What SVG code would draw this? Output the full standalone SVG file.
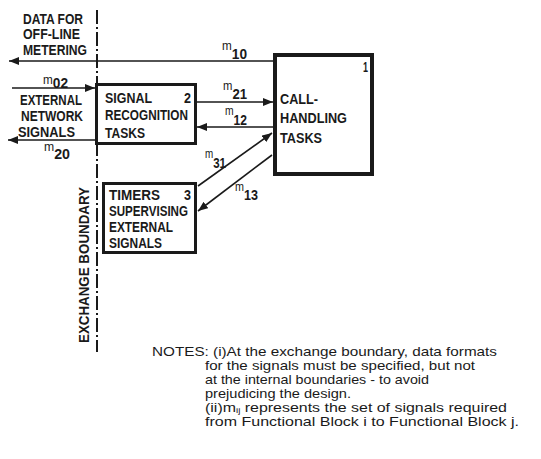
<svg xmlns="http://www.w3.org/2000/svg" width="541" height="459" viewBox="0 0 541 459">
<style>
text{font-family:"Liberation Sans","DejaVu Sans",sans-serif;fill:#1a1a1a}
.t{font-size:14px;font-weight:bold}
.m{font-size:12px}
.d{font-size:14px;font-weight:bold}
.n{font-size:13px}
.box{fill:none;stroke:#1a1a1a}
.c{stroke:#1a1a1a;stroke-width:1.6;fill:none;marker-end:url(#ah)}
</style>
<defs>
<marker id="ah" viewBox="0 0 10 8" refX="10" refY="4" markerWidth="10" markerHeight="8" markerUnits="userSpaceOnUse" orient="auto">
<path d="M0,0 L10,4 L0,8 z" fill="#1a1a1a"/>
</marker>
</defs>
<rect width="541" height="459" fill="#ffffff"/>

<g id="boundary">
<line x1="97" y1="10" x2="97" y2="352" stroke="#1a1a1a" stroke-width="2" stroke-dasharray="14 3 2 3"/>
<text class="t" transform="translate(89,343) rotate(-90)" textLength="156" lengthAdjust="spacingAndGlyphs">EXCHANGE BOUNDARY</text>
</g>

<g id="external-labels">
<text class="t" x="23" y="24" textLength="60" lengthAdjust="spacingAndGlyphs">DATA FOR</text>
<text class="t" x="23" y="39" textLength="57" lengthAdjust="spacingAndGlyphs">OFF-LINE</text>
<text class="t" x="23" y="55" textLength="64" lengthAdjust="spacingAndGlyphs">METERING</text>
<text class="t" x="20" y="105" textLength="62" lengthAdjust="spacingAndGlyphs">EXTERNAL</text>
<text class="t" x="21" y="121" textLength="62" lengthAdjust="spacingAndGlyphs">NETWORK</text>
<text class="t" x="18" y="137" textLength="57" lengthAdjust="spacingAndGlyphs">SIGNALS</text>
</g>

<g id="node1">
<rect class="box" x="275" y="55" width="97" height="119" stroke-width="4"/>
<text class="t" x="363" y="72" textLength="5" lengthAdjust="spacingAndGlyphs">1</text>
<text class="t" x="280" y="104" textLength="38" lengthAdjust="spacingAndGlyphs">CALL-</text>
<text class="t" x="280" y="123" textLength="67" lengthAdjust="spacingAndGlyphs">HANDLING</text>
<text class="t" x="280" y="143" textLength="42" lengthAdjust="spacingAndGlyphs">TASKS</text>
</g>

<g id="node2">
<rect class="box" x="96.5" y="84.5" width="99" height="59" stroke-width="3"/>
<text class="t" x="184" y="103" textLength="7" lengthAdjust="spacingAndGlyphs">2</text>
<text class="t" x="105" y="103" textLength="47" lengthAdjust="spacingAndGlyphs">SIGNAL</text>
<text class="t" x="105" y="120" textLength="83" lengthAdjust="spacingAndGlyphs">RECOGNITION</text>
<text class="t" x="105" y="138" textLength="40" lengthAdjust="spacingAndGlyphs">TASKS</text>
</g>

<g id="node3">
<rect class="box" x="103.5" y="183.5" width="92" height="69" stroke-width="3"/>
<text class="t" x="184" y="200" textLength="7" lengthAdjust="spacingAndGlyphs">3</text>
<text class="t" x="109" y="200" textLength="51" lengthAdjust="spacingAndGlyphs">TIMERS</text>
<text class="t" x="109" y="216" textLength="79" lengthAdjust="spacingAndGlyphs">SUPERVISING</text>
<text class="t" x="109" y="232" textLength="64" lengthAdjust="spacingAndGlyphs">EXTERNAL</text>
<text class="t" x="109" y="248" textLength="53" lengthAdjust="spacingAndGlyphs">SIGNALS</text>
</g>

<g id="connectors">
<line class="c" x1="273" y1="61" x2="9" y2="61"/>
<line class="c" x1="12" y1="88" x2="95" y2="88"/>
<line class="c" x1="95" y1="140" x2="8" y2="140"/>
<line class="c" x1="197" y1="102" x2="273" y2="102"/>
<line class="c" x1="273" y1="127" x2="197" y2="127"/>
<line class="c" x1="198" y1="186" x2="272" y2="133"/>
<line class="c" x1="272" y1="155" x2="198" y2="211"/>
</g>

<g id="connector-labels">
<text x="222" y="50" textLength="25" lengthAdjust="spacingAndGlyphs"><tspan class="m">m</tspan><tspan class="d" dy="9">10</tspan></text>
<text x="43" y="84" textLength="25" lengthAdjust="spacingAndGlyphs"><tspan class="m">m</tspan><tspan class="d" dy="4">02</tspan></text>
<text x="44" y="151" textLength="26" lengthAdjust="spacingAndGlyphs"><tspan class="m">m</tspan><tspan class="d" dy="8">20</tspan></text>
<text x="223" y="90" textLength="24" lengthAdjust="spacingAndGlyphs"><tspan class="m">m</tspan><tspan class="d" dy="9">21</tspan></text>
<text x="225" y="115" textLength="22" lengthAdjust="spacingAndGlyphs"><tspan class="m">m</tspan><tspan class="d" dy="10">12</tspan></text>
<text x="205" y="158" textLength="21" lengthAdjust="spacingAndGlyphs"><tspan class="m">m</tspan><tspan class="d" dy="10">31</tspan></text>
<text x="235" y="191" textLength="23" lengthAdjust="spacingAndGlyphs"><tspan class="m">m</tspan><tspan class="d" dy="9">13</tspan></text>
</g>

<g id="notes">
<text class="n" x="152" y="356" textLength="345" lengthAdjust="spacingAndGlyphs">NOTES: (i)At the exchange boundary, data formats</text>
<text class="n" x="205" y="370" textLength="270" lengthAdjust="spacingAndGlyphs">for the signals must be specified, but not</text>
<text class="n" x="205" y="384" textLength="224" lengthAdjust="spacingAndGlyphs">at the internal boundaries - to avoid</text>
<text class="n" x="205" y="398" textLength="146" lengthAdjust="spacingAndGlyphs">prejudicing the design.</text>
<text class="n" x="205" y="412" textLength="302" lengthAdjust="spacingAndGlyphs">(ii)m<tspan font-size="8" dy="1">ij</tspan><tspan dy="-1"> represents the set of signals required</tspan></text>
<text class="n" x="205" y="426" textLength="314" lengthAdjust="spacingAndGlyphs">from Functional Block i to Functional Block j.</text>
</g>
</svg>
